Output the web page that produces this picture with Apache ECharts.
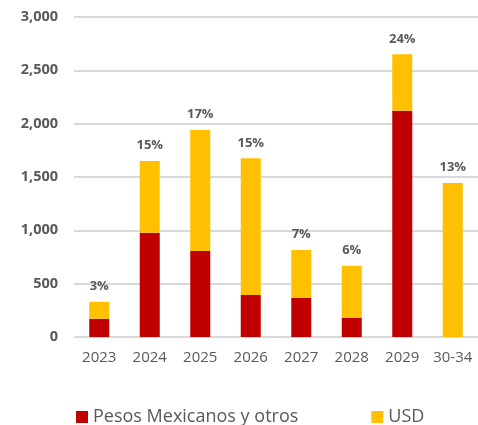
<!DOCTYPE html>
<html><head><meta charset="utf-8">
<script src="https://cdn.jsdelivr.net/npm/echarts@6/dist/echarts.min.js"></script>
<style>html,body{margin:0;padding:0;background:#fff}#c{width:478px;height:425px}</style>
</head><body><div id="c"></div>
<script>
const categories = ['2023','2024','2025','2026','2027','2028','2029','30-34'];
const pesos = [170, 978, 806, 394, 368, 181, 2122, 0];
const usd = [160, 672, 1135, 1281, 448, 487, 528, 1444];
const pctLabels = ['3%','15%','17%','15%','7%','6%','24%','13%'];
const yTicks = [0, 500, 1000, 1500, 2000, 2500, 3000];

const chart = echarts.init(document.getElementById('c'));
chart.setOption({
  animation: false,
  textStyle: { fontFamily: 'Open Sans' },
  grid: { left: 74, top: 17, width: 408, height: 320 },
  legend: {
    top: 403, left: 71, itemGap: 73, itemWidth: 12, itemHeight: 12,
    icon: 'rect',
    textStyle: { fontSize: 18, color: '#595959', fontFamily: 'Open Sans' },
    data: ['Pesos Mexicanos y otros', 'USD']
  },
  xAxis: {
    type: 'category', data: categories,
    axisLine: { lineStyle: { color: '#d9d9d9', width: 1 } },
    axisTick: { show: false },
    axisLabel: { interval: 0, fontSize: 15, color: '#595959', margin: 13 }
  },
  yAxis: {
    type: 'value', min: 0, max: 3000, interval: 500,
    axisLabel: {
      fontSize: 14.5, fontWeight: 'bold', color: '#595959', margin: 16,
      formatter: v => yTicks.includes(v) ? v.toLocaleString('en-US') : ''
    },
    splitLine: { lineStyle: { color: '#d9d9d9', width: 2 } }
  },
  series: [
    { name: 'Pesos Mexicanos y otros', type: 'bar', stack: 't', barWidth: 20,
      itemStyle: { color: '#c00000' }, data: pesos },
    { name: 'USD', type: 'bar', stack: 't', barWidth: 20,
      itemStyle: { color: '#ffc000' }, data: usd,
      label: { show: true, position: 'top', distance: 9, fontSize: 13, fontWeight: 'bold', color: '#595959',
        formatter: p => pctLabels[p.dataIndex] } }
  ]
});
</script></body></html>
